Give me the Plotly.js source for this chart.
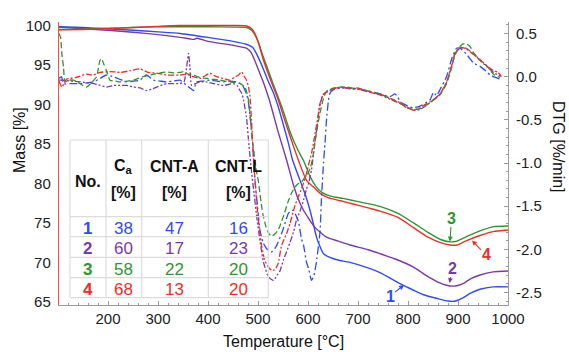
<!DOCTYPE html>
<html>
<head>
<meta charset="utf-8">
<script src="https://cdn.plot.ly/plotly-3.0.1.min.js"></script>
<style>html,body{margin:0;padding:0;background:#fff;}#chart{width:569px;height:352px;}</style>
</head>
<body>
<div id="chart"></div>
<script>
// ---------- DATA ----------
// Mass (TGA) curves, solid lines, left axis
const tBlueM = [102,150,200,250,300,344,400,450,478,490,501,510,520,530,540,550,560,569,584,595,604,611,617,624,631,645,660,684,720,744,784,810,831,860,880,895,910,925,944,970,1000];
const mBlue  = [99.85,99.75,99.6,99.4,99.2,99.0,98.5,98.0,97.6,97.2,95.9,94.6,93.0,91.6,89.8,87.6,85.3,83.0,80.4,78.5,76.6,74.8,73.2,72.0,71.1,70.6,70.3,70.0,69.3,68.7,67.3,66.5,65.9,65.4,65.1,65.1,65.5,66.1,66.6,66.9,66.9];

const tPurpleM = [102,150,200,250,300,344,365,372,378,400,450,478,486,494,502,512,523,540,557,570,580,591,603,613,625,637,660,684,720,744,780,811,840,860,877,895,910,925,944,970,1000];
const mPurple  = [99.8,99.6,99.4,99.15,98.85,98.5,98.3,98.25,98.4,98.0,97.5,97.1,96.6,95.5,94.2,92.6,90.5,86.6,83.0,80.0,78.1,76.6,75.4,74.5,73.8,73.2,72.7,72.2,71.6,71.1,70.3,69.4,68.2,67.5,67.1,67.0,67.3,67.9,68.4,68.8,68.9];

const tGreenM = [102,150,200,250,300,344,400,450,477,485,492,500,508,520,535,547,565,580,591,604,615,627,645,670,700,744,780,811,840,865,884,898,915,944,970,1000];
const mGreen  = [99.5,99.55,99.65,99.75,99.85,99.85,99.85,99.8,99.75,99.5,99.0,98.0,96.5,94.4,91.8,89.8,86.4,84.2,82.9,80.9,79.7,78.9,78.4,78.1,77.7,77.1,76.2,75.0,73.8,72.9,72.6,72.7,73.2,74.0,74.5,74.6];

const tRedM = [102,150,200,250,300,344,400,450,477,485,492,500,510,520,530,541,555,570,581,597,610,625,640,665,690,720,744,780,811,840,865,884,898,915,944,970,1000];
const mRed  = [99.45,99.5,99.6,99.75,99.9,100,100,100,99.95,99.7,99.2,98.0,95.8,94.0,92.3,90.5,87.7,84.9,82.9,80.4,79.6,78.7,78.2,77.8,77.4,76.9,76.5,75.7,74.4,73.2,72.5,72.2,72.2,72.7,73.4,73.9,74.1];

// DTG curves, dashed lines, right axis
const tBlueD = [102,107,111,124,144,160,171,184,197,211,224,237,251,264,277,291,304,317,330,344,357,364,371,377,390,404,418,431,444,457,465,471,477,481,484,487,490,494,499,504,510,517,527,537,550,561,567,571,577,581,587,591,597,601,607,612,617,624,627,631,634,637,641,644,651,664,677,697,717,744,764,774,780,784,804,811,824,844,851,857,864,877,887,897,904,917,931,944,957,964,971,980,988];
const dBlue  = [-0.02,0.0,-0.08,-0.08,-0.08,-0.07,-0.06,-0.02,0.02,0.0,-0.03,-0.06,-0.05,-0.04,0.02,-0.04,-0.05,-0.06,-0.05,-0.04,-0.1,-0.13,-0.16,-0.06,-0.05,-0.04,-0.05,-0.06,-0.05,-0.06,-0.08,-0.12,-0.2,-0.3,-0.45,-0.6,-0.85,-1.2,-1.5,-1.78,-1.92,-1.99,-2.03,-1.96,-1.77,-1.58,-1.55,-1.55,-1.62,-1.68,-1.88,-1.95,-2.15,-2.22,-2.36,-2.3,-2.14,-1.8,-1.4,-1.0,-0.77,-0.5,-0.27,-0.19,-0.15,-0.13,-0.13,-0.14,-0.16,-0.2,-0.23,-0.2,-0.24,-0.29,-0.35,-0.36,-0.34,-0.27,-0.18,-0.22,-0.15,0.0,0.2,0.33,0.33,0.26,0.16,0.12,0.06,0.02,0.0,-0.02,-0.03];

const tPurpleD = [102,107,125,144,171,184,197,211,224,237,251,264,277,290,297,317,330,344,352,357,361,364,367,375,384,397,411,431,451,458,464,468,471,477,482,487,492,498,504,511,521,531,538,544,551,557,564,571,577,584,591,597,601,607,613,618,623,629,637,651,664,677,697,717,744,764,784,804,811,824,844,864,877,887,894,904,917,931,944,957,971,987];
const dPurple  = [-0.04,-0.04,-0.05,-0.06,-0.08,-0.1,-0.12,-0.1,-0.1,-0.1,-0.12,-0.13,-0.16,-0.14,-0.12,-0.08,-0.08,-0.08,-0.06,0.1,0.27,0.1,-0.1,-0.08,-0.06,-0.06,-0.08,-0.1,-0.08,-0.1,-0.16,-0.2,-0.27,-0.47,-0.8,-1.1,-1.35,-1.65,-1.9,-2.15,-2.32,-2.36,-2.3,-2.25,-2.12,-2.03,-1.92,-1.8,-1.66,-1.56,-1.43,-1.3,-1.24,-1.08,-0.8,-0.58,-0.36,-0.22,-0.17,-0.14,-0.13,-0.13,-0.14,-0.17,-0.21,-0.26,-0.31,-0.37,-0.39,-0.38,-0.3,-0.2,-0.07,0.12,0.27,0.33,0.33,0.26,0.19,0.12,0.05,0.0];

const tGreenD = [102,105,108,111,114,122,131,144,157,165,177,184,187,192,197,204,215,224,251,270,284,300,317,330,344,352,360,371,384,397,411,424,444,464,474,481,485,488,492,497,501,506,510,515,520,527,534,540,547,553,560,567,574,580,587,593,600,605,610,614,619,624,631,637,644,651,664,677,697,717,744,764,784,804,811,824,844,864,877,887,894,904,910,917,924,931,944,957,971,984];
const dGreen  = [0.5,0.46,0.25,0.11,-0.06,-0.04,-0.04,-0.08,-0.12,-0.08,0.0,0.19,0.21,0.14,0.07,-0.04,-0.05,-0.06,-0.04,0.0,0.02,0.04,0.055,0.045,0.05,0.06,0.03,0.02,-0.01,-0.02,-0.03,-0.04,-0.06,-0.08,-0.12,-0.27,-0.5,-0.7,-0.88,-1.1,-1.22,-1.45,-1.6,-1.72,-1.8,-1.85,-1.82,-1.78,-1.68,-1.58,-1.45,-1.35,-1.28,-1.24,-1.22,-1.17,-1.12,-1.05,-0.92,-0.75,-0.58,-0.42,-0.25,-0.17,-0.15,-0.13,-0.12,-0.12,-0.14,-0.16,-0.2,-0.25,-0.31,-0.37,-0.38,-0.37,-0.3,-0.21,-0.08,0.1,0.25,0.35,0.38,0.38,0.35,0.28,0.19,0.13,0.03,-0.01];

const tRedD = [102,108,117,135,157,170,184,205,224,245,264,280,300,317,344,357,371,384,404,417,430,444,455,461,467,473,477,481,484,487,490,494,498,503,508,513,520,527,533,540,547,557,564,573,580,587,593,597,602,607,612,617,621,624,631,644,651,664,677,690,697,717,730,744,764,784,797,804,811,818,824,835,844,855,864,877,887,894,900,907,917,931,944,957,971,980,987];
const dRed  = [-0.05,-0.12,-0.03,-0.01,0.03,0.02,0.05,0.06,0.05,0.07,0.09,0.05,0.04,0.02,0.02,0.03,0.0,-0.02,0.04,0.0,-0.02,-0.04,0.0,0.02,0.055,0.0,-0.04,-0.12,-0.23,-0.5,-0.85,-1.2,-1.5,-1.78,-1.98,-2.12,-2.2,-2.24,-2.24,-2.17,-1.96,-1.82,-1.7,-1.51,-1.4,-1.3,-1.2,-1.12,-1.0,-0.89,-0.73,-0.56,-0.42,-0.31,-0.2,-0.16,-0.14,-0.12,-0.13,-0.15,-0.13,-0.16,-0.19,-0.2,-0.25,-0.3,-0.36,-0.37,-0.39,-0.37,-0.36,-0.32,-0.29,-0.25,-0.2,-0.06,0.12,0.27,0.32,0.34,0.32,0.26,0.2,0.13,0.07,0.05,0.0];

// Axis ticks
const xTickVals = [200,300,400,500,600,700,800,900,1000];
const massTickVals = [65,70,75,80,85,90,95,100];
const dtgTickVals = [-2.5,-2.0,-1.5,-1.0,-0.5,0.0,0.5];
const dtgTickText = ["-2.5","-2.0","-1.5","-1.0","-0.5","0.0","0.5"];

// Table content
const tableHead1 = ["No.","C<sub>a</sub>","CNT-A","CNT-L"];
const tableHead2 = ["","[%]","[%]","[%]"];
const sampleNo = ["1","2","3","4"];
const colCa   = ["38","60","58","68"];
const colCntA = ["47","17","22","13"];
const colCntL = ["16","23","20","20"];

// ---------- STYLE ----------
const cBlue = '#2f4bf2', cPurple = '#7a3aa6', cGreen = '#2e962e', cRed = '#ee2d2a';
const rowColors = [cBlue, cPurple, cGreen, cRed];
const FONT = 'Arial, "Liberation Sans", sans-serif';

// plot area in pixels
const L = 59, R = 508, T = 22, B = 305;
const px = x => (x - L) / (R - L);
const py = y => (B - y) / (B - T);

function solid(x, y, c) {
  return {x, y, type:'scatter', mode:'lines', line:{color:c, width:1.4, shape:'spline', smoothing:0.6}, yaxis:'y', hoverinfo:'skip', showlegend:false};
}
function dashed(x, y, c, dash) {
  return {x, y, type:'scatter', mode:'lines', line:{color:c, width:1.3, dash:dash, shape:'spline', smoothing:0.5}, yaxis:'y2', hoverinfo:'skip', showlegend:false};
}

const data = [
  dashed(tBlueD, dBlue, cBlue, '8px,3px,2px,3px'),
  dashed(tPurpleD, dPurple, cPurple, '6px,2px,2px,2px,2px,2px'),
  dashed(tGreenD, dGreen, cGreen, '6px,3px'),
  dashed(tRedD, dRed, cRed, '6px,2px,2px,2px'),
  solid(tBlueM, mBlue, cBlue),
  solid(tPurpleM, mPurple, cPurple),
  solid(tGreenM, mGreen, cGreen),
  solid(tRedM, mRed, cRed)
];

// ---------- TABLE (shapes + annotations) ----------
const shapes = [];
const gridC = '#dcdcdc';
const colX = [70, 106, 141.7, 208.3, 268.3];
const rowY = [140, 216.7, 236.7, 257.3, 277.7, 297.7];
colX.forEach(x => shapes.push({type:'line', xref:'paper', yref:'paper', x0:px(x), x1:px(x), y0:py(140), y1:py(297.7), line:{color:gridC, width:1.2}}));
rowY.forEach(y => shapes.push({type:'line', xref:'paper', yref:'paper', x0:px(70), x1:px(268.3), y0:py(y), y1:py(y), line:{color:gridC, width:1.2}}));

const annotations = [];
function txt(x, y, s, opts) {
  annotations.push(Object.assign({xref:'paper', yref:'paper', x:px(x), y:py(y), text:s, showarrow:false, xanchor:'center', yanchor:'middle', font:{family:FONT, size:16, color:'#111'}}, opts||{}));
}
const hx = [87.5, 123.5, 174.5, 238];
txt(hx[0], 181, '<b>' + tableHead1[0] + '</b>');
for (let i = 1; i < 4; i++) {
  txt(hx[i], 166, '<b>' + tableHead1[i] + '</b>');
  txt(hx[i], 192, '<b>' + tableHead2[i] + '</b>');
}
const rowCy = [228, 248.5, 269, 289];
for (let r = 0; r < 4; r++) {
  const f = {family:FONT, size:17, color:rowColors[r]};
  txt(87.5, rowCy[r], '<b>' + sampleNo[r] + '</b>', {font:f});
  txt(123.5, rowCy[r], colCa[r], {font:f});
  txt(174.5, rowCy[r], colCntA[r], {font:f});
  txt(238, rowCy[r], colCntL[r], {font:f});
}

// curve labels with arrows
function lab(s, hx_, hy_, tx, ty, c) {
  annotations.push({xref:'paper', yref:'paper', x:px(hx_), y:py(hy_), ax:tx-hx_, ay:ty-hy_, text:'<b>'+s+'</b>', showarrow:true, arrowhead:2, arrowsize:0.9, arrowwidth:1.1, arrowcolor:c, font:{family:FONT, size:16, color:c}, standoff:0, borderpad:0});
}
lab('1', 404, 285, 390, 296, cBlue);
lab('2', 449.5, 283, 452.5, 268, cPurple);
lab('3', 450, 241.5, 451.5, 218, cGreen);
lab('4', 472, 240.5, 486, 255, cRed);

// axis titles
txt(19, 140, 'Mass [%]', {textangle:-90, font:{family:FONT, size:16, color:'#111'}});
txt(559, 147, 'DTG [%/min]', {textangle:90, font:{family:FONT, size:16, color:'#111'}});
txt(283, 341, 'Temperature [°C]', {font:{family:FONT, size:16, color:'#111'}});

const layout = {
  width:569, height:352, autosize:false,
  margin:{l:L, r:569-R, t:T, b:352-B, pad:0},
  paper_bgcolor:'#fff', plot_bgcolor:'#fff',
  showlegend:false,
  font:{family:FONT, size:15, color:'#222'},
  xaxis:{range:[102,1000], tickvals:xTickVals, showgrid:false, zeroline:false, showline:true, linecolor:'#9a9a9a', linewidth:1,
         ticks:'inside', ticklen:4, tickcolor:'#9a9a9a', minor:{dtick:20, ticks:'inside', ticklen:2, tickcolor:'#9a9a9a'},
         tickfont:{family:FONT, size:15, color:'#222'}},
  yaxis:{range:[64.6,100.45], tickvals:massTickVals, showgrid:false, zeroline:false, showline:true, linecolor:'#ff4a4a', linewidth:1.2,
         ticks:'', ticklabelstandoff:4, tickfont:{family:FONT, size:15, color:'#222'}},
  yaxis2:{range:[-2.645,0.634], overlaying:'y', side:'right', tickvals:dtgTickVals, ticktext:dtgTickText, showgrid:false, zeroline:false,
          showline:true, linecolor:'#9a9a9a', linewidth:1, ticks:'inside', ticklen:4, tickcolor:'#9a9a9a',
          minor:{dtick:0.1, ticks:'inside', ticklen:2, tickcolor:'#9a9a9a'}, ticklabelstandoff:4,
          tickfont:{family:FONT, size:15, color:'#222'}},
  shapes:shapes,
  annotations:annotations
};

Plotly.newPlot('chart', data, layout, {staticPlot:true, displayModeBar:false});
</script>
</body>
</html>
